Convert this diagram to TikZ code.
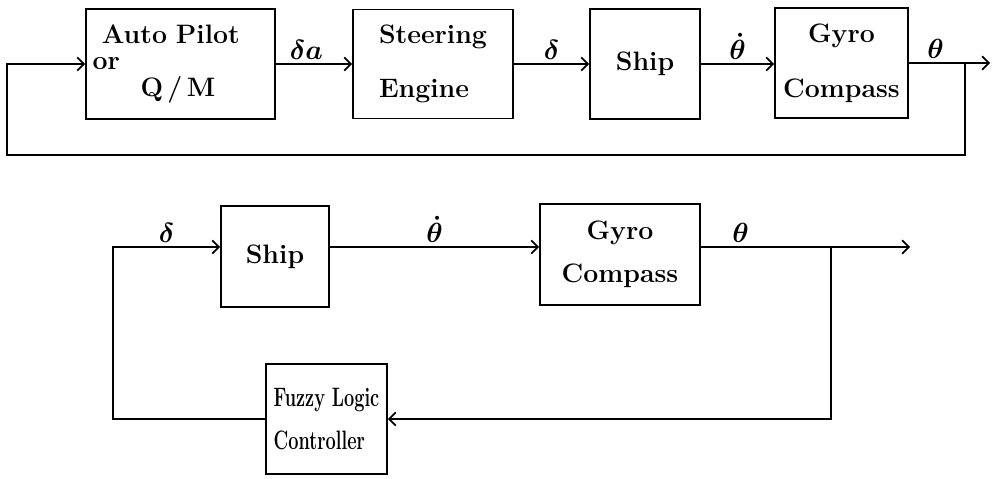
\documentclass[tikz,border=0pt]{standalone}
\usepackage{amsmath}
\usepackage{tikz}
\usetikzlibrary{positioning,arrows.meta,calc}
\tikzset{
  blk/.style={draw, rectangle, line width=1.3pt, inner sep=0pt,
    font=\fontsize{20}{24}\selectfont\bfseries},
  flow/.style={-{Straight Barb[length=5pt,width=10pt]}, line width=1.3pt},
  sig/.style={above, inner sep=3pt, font=\fontsize{20}{24}\selectfont},
}
\newcommand{\narrow}[1]{\scalebox{0.68}[1]{#1}}

\begin{document}
\begin{tikzpicture}[x=0.75pt, y=-0.75pt]
  \useasboundingbox (0,0) rectangle (998,478);
  % upper loop: auto pilot
  \node[blk, minimum width=141.75pt, minimum height=82.5pt, text width=132pt, align=left,
    font=\fontsize{20}{20}\selectfont\bfseries] (ap) at (180.5,64)
    {\hspace*{7pt}Auto Pilot\\or\\\hspace*{36pt}Q\,/\,M};
  \node[blk, minimum width=120pt, minimum height=81.75pt, align=left,
    font=\fontsize{20}{40}\selectfont\bfseries] (se) at (433,64) {Steering\\Engine};
  \node[blk, minimum width=82.5pt, minimum height=82.5pt] (ship1) at (645,64) {Ship};
  \node[blk, minimum width=99.75pt, minimum height=82.5pt, align=center,
    font=\fontsize{20}{41}\selectfont\bfseries] (gyro1) at (841.5,63) {Gyro\\Compass};
  \coordinate (out1) at (990,63);
  \coordinate (br1) at (965,63);
  \coordinate (fb1) at (7,155);
  \draw[flow] (ap.east) -- (se.west) node[sig, pos=0.4] {$\boldsymbol{\delta a}$};
  \draw[flow] (se.east) -- (ship1.west) node[sig, midway] {$\boldsymbol{\delta}$};
  \draw[flow] (ship1.east) -- (gyro1.west |- ship1.east) node[sig, midway] {$\boldsymbol{\dot\theta}$};
  \draw[flow] (gyro1.east) -- (out1) node[sig, pos=0.33] {$\boldsymbol{\theta}$};
  \draw[flow] (br1) -- (br1 |- fb1) -- (fb1) |- (ap.west);

  % lower loop: fuzzy logic controller
  \node[blk, minimum width=81pt, minimum height=75.75pt] (ship2) at (275,256.5) {Ship};
  \node[blk, minimum width=120pt, minimum height=75.75pt, align=center,
    font=\fontsize{20}{32}\selectfont\bfseries] (gyro2) at (620,254.5) {Gyro\\Compass};
  \node[blk, minimum width=90.75pt, minimum height=82.5pt, align=left,
    font=\fontsize{20}{32}\selectfont\bfseries] (flc) at (326.5,419)
    {\narrow{Fuzzy Logic}\\\narrow{Controller}};
  \coordinate (out2) at (910,247);
  \coordinate (br2) at (831,247);
  \coordinate (fb2) at (113,247);
  \draw[flow] (ship2.east |- out2) -- (gyro2.west |- out2) node[sig, midway] {$\boldsymbol{\dot\theta}$};
  \draw[flow] (gyro2.east |- out2) -- (out2) node[sig, pos=0.19] {$\boldsymbol{\theta}$};
  \draw[flow] (br2) |- (flc.east);
  \draw[flow] (flc.west) -| (fb2) -- (ship2.west |- fb2) node[sig, midway] {$\boldsymbol{\delta}$};
\end{tikzpicture}
\end{document}
